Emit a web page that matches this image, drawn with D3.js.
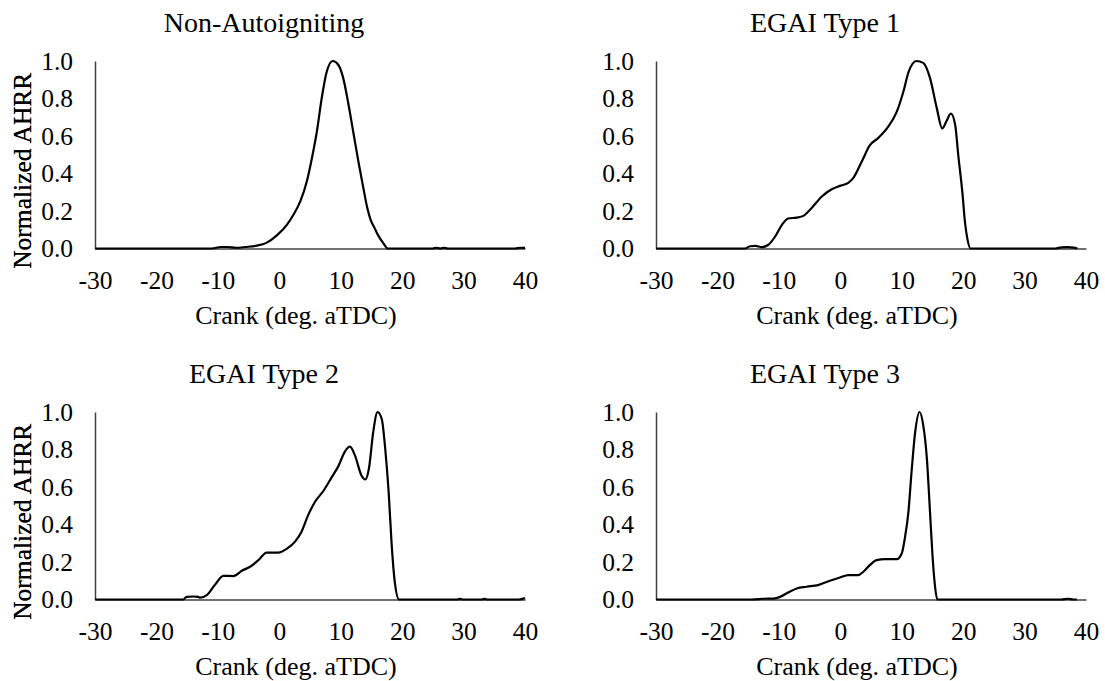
<!DOCTYPE html>
<html><head><meta charset="utf-8">
<script src="https://cdn.jsdelivr.net/npm/d3@7"></script>
<style>body{margin:0;background:#fff}svg{display:block}</style>
</head><body><svg id="c" width="1105" height="681"></svg>
<script>
const panelTitles = ["Non-Autoigniting", "EGAI Type 1", "EGAI Type 2", "EGAI Type 3"];
const xTicks = [-30, -20, -10, 0, 10, 20, 30, 40];
const yTicks = [0, 0.2, 0.4, 0.6, 0.8, 1.0];
const xLabel = "Crank (deg. aTDC)";
const yLabel = "Normalized AHRR";

const crank1 = [-30, -11, -9.5, -8.5, -7, -5.5, -3.7, -2.1, -0.4, 1.2, 2.3, 3.4, 4.5, 5.3, 6.1, 6.9, 7.7, 8.7, 9.6, 10.4, 11.2, 12.05, 12.9, 13.7, 14.3, 14.9, 15.5, 16.1, 16.9, 17.7, 25, 25.6, 26.2, 26.8, 27.4, 28, 38.4, 39.2, 40];
const ahrr1  = [0, 0, 0.008, 0.008, 0.004, 0.008, 0.015, 0.03, 0.07, 0.125, 0.18, 0.25, 0.36, 0.48, 0.62, 0.80, 0.94, 1.0, 0.98, 0.91, 0.78, 0.62, 0.46, 0.32, 0.22, 0.15, 0.11, 0.07, 0.03, 0, 0, 0.004, 0, 0.004, 0, 0, 0, 0.004, 0.003];

const crank2 = [-30, -15.5, -14.7, -13.8, -12.8, -11.7, -10.6, -9.5, -8.5, -7.1, -6.0, -4.7, -3.0, -1.4, -0.05, 1.3, 2.1, 3.5, 4.8, 6.2, 7.8, 9.2, 10.3, 11.1, 12.4, 13.5, 14.6, 15.7, 16.6, 17.3, 18.0, 18.7, 19.2, 19.9, 20.3, 20.7, 21.2, 35, 36, 37, 38, 38.6];
const ahrr2  = [0, 0, 0.012, 0.014, 0.007, 0.02, 0.064, 0.126, 0.16, 0.165, 0.174, 0.215, 0.277, 0.316, 0.334, 0.35, 0.375, 0.464, 0.55, 0.59, 0.65, 0.73, 0.84, 0.94, 1.0, 0.99, 0.91, 0.75, 0.64, 0.68, 0.72, 0.66, 0.50, 0.29, 0.14, 0.05, 0, 0, 0.006, 0.007, 0.005, 0];

const crank3 = [-30, -15.6, -15.1, -14, -13.2, -12.9, -11.8, -10.5, -9.1, -7.5, -6.1, -4.5, -3.4, -2.05, -0.15, 1.2, 2.6, 3.6, 4.7, 5.8, 7.2, 8.5, 9.6, 10.7, 11.5, 12.3, 13.4, 14.0, 14.6, 15.3, 16.0, 16.7, 17.2, 17.8, 18.3, 18.8, 19.5, 29, 29.4, 29.8, 33, 33.4, 33.8, 39, 40];
const ahrr3  = [0, 0, 0.014, 0.016, 0.014, 0.01, 0.023, 0.077, 0.126, 0.125, 0.153, 0.18, 0.21, 0.25, 0.25, 0.27, 0.31, 0.36, 0.45, 0.52, 0.58, 0.65, 0.71, 0.79, 0.815, 0.77, 0.66, 0.64, 0.70, 0.895, 1.0, 0.96, 0.82, 0.575, 0.29, 0.094, 0, 0, 0.004, 0, 0, 0.004, 0, 0, 0.008];

const crank4 = [-30, -14.4, -12.5, -10.9, -9.8, -8.5, -7.1, -5.5, -3.6, -1.7, -0.05, 1.3, 2.9, 3.75, 4.8, 5.9, 7.3, 9.2, 10.0, 10.5, 11.1, 11.6, 12.2, 12.9, 13.5, 14.1, 14.6, 15.0, 15.4, 15.8, 36, 37, 38, 38.5];
const ahrr4  = [0, 0, 0.004, 0.005, 0.014, 0.037, 0.059, 0.068, 0.077, 0.10, 0.117, 0.13, 0.13, 0.148, 0.183, 0.21, 0.215, 0.215, 0.245, 0.325, 0.47, 0.68, 0.895, 1.0, 0.93, 0.75, 0.47, 0.24, 0.077, 0, 0, 0.004, 0, 0];

const series = [[crank1, ahrr1], [crank2, ahrr2], [crank3, ahrr3], [crank4, ahrr4]];

const FONT = "'Liberation Serif', 'Times New Roman', serif";
const svg = d3.select("#c");
const W = 430, H = 187.5;
const lefts = [95, 656], tops = [61, 412];

series.forEach(([xs, ys], i) => {
  const left = lefts[i % 2], top = tops[Math.floor(i / 2)];
  const g = svg.append("g").attr("transform", `translate(${left},${top})`);
  const x = d3.scaleLinear().domain([-30, 40]).range([0, W]);
  const y = d3.scaleLinear().domain([0, 1]).range([H, 0]);

  const xa = g.append("g").attr("transform", `translate(0,${H})`)
    .call(d3.axisBottom(x).tickValues(xTicks).tickFormat(d => String(d)).tickSize(0).tickSizeOuter(0).tickPadding(22));
  const ya = g.append("g")
    .call(d3.axisLeft(y).tickValues(yTicks).tickFormat(d3.format(".1f")).tickSize(0).tickSizeOuter(0).tickPadding(22));
  [xa, ya].forEach(a => {
    a.select(".domain").attr("stroke", "#404040").attr("stroke-width", 1.5);
    a.selectAll("text").attr("font-family", FONT).attr("font-size", 25.5).attr("fill", "#000");
  });

  const data = xs.map((v, k) => [v, ys[k]]);
  g.append("path").datum(data)
    .attr("fill", "none").attr("stroke", "#000").attr("stroke-width", 2.2)
    .attr("stroke-linejoin", "round")
    .attr("d", d3.line().x(d => x(d[0])).y(d => y(d[1])).curve(d3.curveMonotoneX));

  g.append("text").attr("x", W / 2 - 46).attr("y", -29)
    .attr("text-anchor", "middle").attr("font-family", FONT).attr("font-size", 28)
    .text(panelTitles[i]);
  g.append("text").attr("x", W / 2 - 14).attr("y", H + 75)
    .attr("text-anchor", "middle").attr("font-family", FONT).attr("font-size", 26)
    .text(xLabel);
  g.append("text").attr("transform", `translate(${31 - left},${H / 2 + 16}) rotate(-90)`)
    .attr("text-anchor", "middle").attr("font-family", FONT).attr("font-size", 25.5)
    .text(yLabel);
});
</script></body></html>
